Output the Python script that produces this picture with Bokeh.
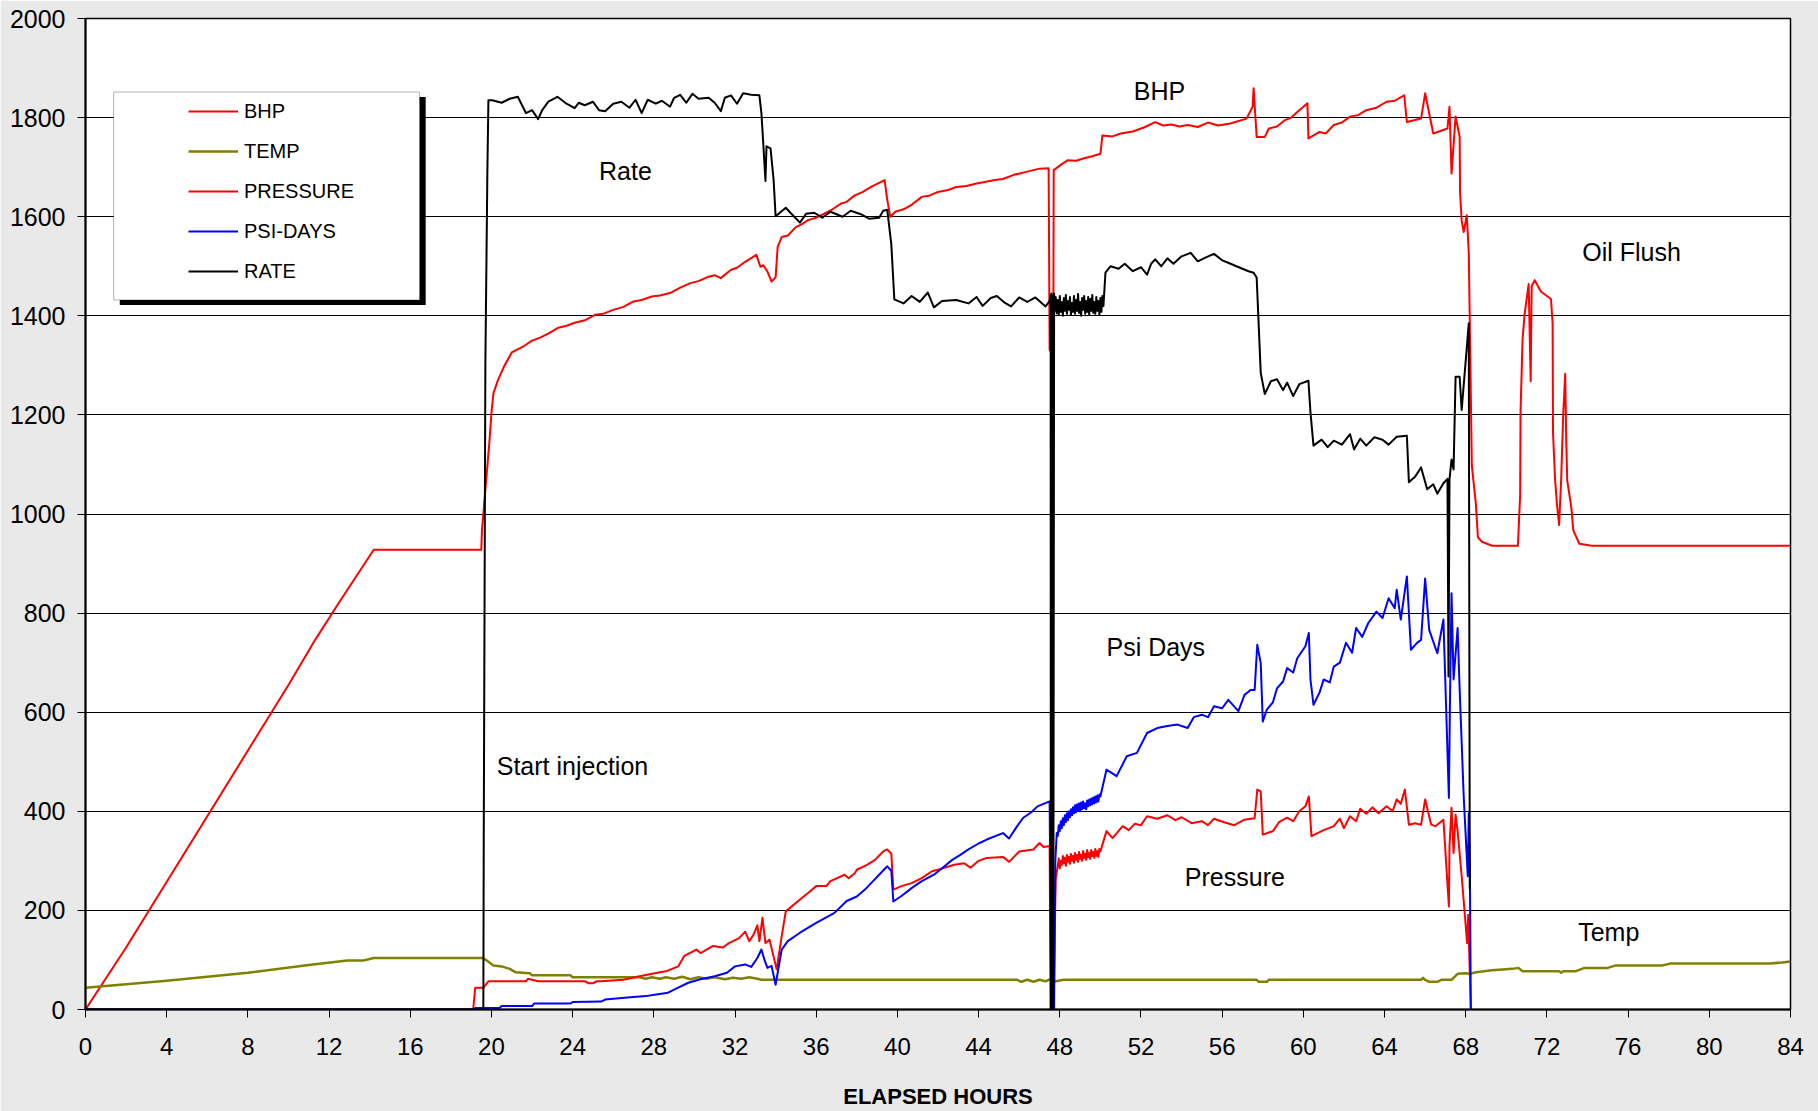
from bokeh.plotting import figure
from bokeh.models import Range1d, FixedTicker, Legend, LegendItem, BoxAnnotation, Label
from bokeh.embed import file_html
from bokeh.resources import INLINE

# ---------------- data (hours, value) ----------------
BHP = [(0,0),(2,125),(6,390),(10,655),(11.3,745),(12.5,822),(14.2,928),
       (19.5,928),(19.53,965),(19.7,1049),(19.9,1146),(20.0,1204),(20.1,1244),(20.3,1268),
       (20.6,1296),(21.0,1326),(21.6,1339),(22.0,1350),(22.4,1356),(22.8,1364),(23.3,1376),
       (23.7,1380),(24.1,1386),(24.6,1391),(25.1,1402),(25.5,1404),(26.0,1412),(26.5,1418),
       (27.0,1429),(27.4,1432),(27.9,1439),(28.3,1441),(28.8,1446),(29.3,1457),(29.8,1466),
       (30.2,1470),(30.7,1479),(31.0,1482),(31.3,1476),(31.8,1493),(32.1,1497),(32.5,1509),
       (33.05,1523),(33.25,1499),(33.4,1502),(33.6,1489),(33.8,1469),(34.0,1478),(34.1,1539),
       (34.3,1559),(34.6,1562),(35.0,1579),(35.3,1585),(35.6,1593),(36.0,1598),(36.4,1606),
       (36.8,1615),(37.2,1626),(37.5,1630),(37.9,1643),(38.3,1650),(38.7,1660),(39.37,1674),
       (39.5,1634),(39.65,1600),(39.9,1610),(40.3,1615),(40.7,1624),(41.2,1640),(41.6,1643),
       (42.0,1650),(42.5,1654),(42.9,1660),(43.4,1662),(43.9,1667),(44.3,1670),(44.8,1674),
       (45.2,1676),(45.7,1684),(46.3,1690),(47.0,1697),(47.45,1698),(47.5,1331),(47.68,1331),
       (47.7,1694),(48.1,1706),(48.4,1714),(48.8,1713),(49.2,1718),(49.6,1722),(50.0,1727),
       (50.1,1764),(50.6,1762),(51.0,1768),(51.6,1772),(52.2,1781),(52.7,1791),(53.1,1784),
       (53.5,1786),(53.9,1782),(54.3,1785),(54.8,1781),(55.3,1790),(55.8,1784),(56.4,1788),
       (57.2,1798),(57.5,1822),(57.55,1859),(57.7,1761),(58.1,1761),(58.3,1778),(58.7,1782),
       (59.1,1795),(59.4,1800),(59.8,1815),(60.2,1829),(60.25,1758),(60.8,1771),(61.1,1768),
       (61.5,1785),(61.9,1790),(62.3,1802),(62.7,1805),(63.1,1815),(63.6,1820),(64.1,1832),
       (64.5,1834),(64.97,1845),(65.1,1791),(65.8,1798),(66.0,1849),(66.4,1768),(67.1,1778),
       (67.2,1822),(67.3,1687),(67.5,1802),(67.7,1762),(67.72,1650),(67.8,1592),(67.9,1569),
       (68.05,1603),(68.15,1527),(68.2,1384),(68.3,1098),(68.5,1020),(68.6,953),(68.8,944),
       (69.3,936),(70.57,936),(70.68,1037),(70.7,1206),(70.8,1353),(70.9,1403),(71.1,1464),
       (71.2,1268),(71.25,1460),(71.4,1472),(71.7,1449),(72.2,1434),(72.28,1384),(72.3,1164),
       (72.4,1071),(72.5,1017),(72.6,978),(72.7,1068),(72.8,1198),(72.9,1283),(72.95,1151),
       (73.0,1068),(73.2,1014),(73.3,967),(73.6,940),(74.2,936),(84,936)]

TEMP = [(0,44),(4,58),(8,74),(11,90),(12.9,99),(13.7,99),(14.2,104),(19.6,104),(20.1,89),
        (20.5,87),(20.9,82),(21.2,75),(21.9,73),(22.0,69),(23.9,69),(24.0,65),(27.3,65),
        (27.6,62),(27.9,65),(28.3,62),(28.6,65),(29.0,62),(29.4,66),(29.8,61),(30.2,65),
        (30.6,62),(31.0,65),(31.5,61),(31.9,64),(32.3,62),(32.7,65),(33.1,62),(33.3,60),
        (45.9,60),(46.1,56),(46.4,60),(46.7,56),(47.0,60),(47.3,57),(47.5,61),(47.8,57),
        (48.2,60),(57.7,60),(57.8,56),(58.2,56),(58.3,60),(65.8,60),(65.9,64),(66.0,60),
        (66.2,56),(66.6,56),(66.8,60),(67.3,60),(67.6,72),(68.0,73),(68.2,72),(68.5,75),
        (69.3,79),(70.3,82),(70.6,84),(70.8,77),(72.6,77),(72.7,74),(72.8,77),(73.4,77),
        (73.85,84),(75.0,84),(75.4,89),(77.7,89),(78.1,93),(83.0,93),(83.6,95),(84,97)]

PRESSURE = [(0,0),(19.1,0),(19.2,44),(19.6,44),(19.85,57),(21.7,57),(21.8,62),(22.0,60),
            (22.3,57),(24.6,57),(24.8,53),(25.0,53),(25.2,57),(25.4,57),(26.5,60),(27.3,67),
            (28.3,75),(28.6,77),(29.2,87),(29.5,108),(30.1,121),(30.3,114),(30.9,128),
            (31.4,125),(31.7,134),(32.2,144),(32.5,157),(32.7,138),(32.9,150),(33.1,170),
            (33.2,138),(33.35,185),(33.5,134),(33.7,141),(34.05,81),(34.3,148),(34.5,198),
            (35.2,222),(35.6,235),(36.0,249),(36.5,249),(36.7,259),(37.4,272),(37.6,265),
            (37.9,275),(38.0,282),(38.5,292),(38.9,302),(39.3,319),(39.5,323),(39.7,315),
            (39.8,242),(40.2,249),(40.7,255),(41.2,265),(41.7,279),(42.0,282),(42.8,292),
            (43.3,295),(43.6,286),(44.0,300),(44.4,306),(45.2,308),(45.5,298),(46.0,319),
            (46.7,323),(47.0,336),(47.2,328),(47.5,330),(47.55,0),(47.7,0),(47.75,150),
            (47.8,262),(47.9,290),(47.95,305),(48.0,285),(48.05,300),(48.1,292),(48.15,310),
            (48.2,295),(48.25,306),(48.3,290),(48.35,312),(48.4,298),(48.45,308),(48.5,294),
            (48.55,314),(48.6,300),(48.65,310),(48.7,296),(48.75,316),(48.8,302),(48.85,312),
            (48.9,298),(48.95,318),(49.0,304),(49.05,312),(49.1,300),(49.15,320),(49.2,306),
            (49.25,314),(49.3,302),(49.35,322),(49.4,308),(49.45,316),(49.5,304),(49.55,322),
            (49.6,310),(49.65,318),(49.7,306),(49.75,324),(49.8,310),(49.85,320),(49.9,308),
            (49.95,324),(50.0,319),(50.3,360),(50.6,346),(51.1,370),(51.4,362),(51.7,375),
            (52.0,372),(52.3,390),(52.8,385),(53.3,392),(53.7,382),(54.0,388),(54.5,376),
            (55.0,380),(55.3,372),(55.6,385),(56.1,378),(56.6,372),(57.1,383),(57.6,386),
            (57.73,444),(57.9,440),(58.0,353),(58.5,360),(58.8,378),(59.2,387),(59.5,380),
            (59.8,400),(60.1,410),(60.27,430),(60.4,350),(60.6,354),(61.0,362),(61.5,370),
            (61.8,385),(62.0,366),(62.3,390),(62.6,380),(62.8,405),(63.1,395),(63.4,408),
            (63.7,396),(64.1,410),(64.4,400),(64.6,424),(64.8,415),(65.0,444),(65.2,373),
            (65.5,376),(65.8,373),(66.0,424),(66.3,373),(66.5,370),(66.9,383),(67.17,208),
            (67.2,330),(67.3,407),(67.4,316),(67.5,393),(67.6,360),(67.8,269),(68.07,134),
            (68.12,191),(68.2,74),(68.25,0)]

PSI_DAYS = [(0,0),(19.1,0),(19.2,3),(20.4,3),(20.5,7),(22.0,7),(22.1,12),(23.9,12),(24.0,15),
            (25.4,16),(25.6,20),(26.7,24),(27.6,27),(28.2,31),(28.7,34),(29.2,44),(29.7,54),
            (30.3,61),(31.0,67),(31.6,74),(32.0,87),(32.5,91),(32.8,86),(33.1,104),(33.3,121),
            (33.45,100),(33.6,84),(33.8,88),(34.0,50),(34.3,121),(34.6,138),(35.2,155),
            (36.0,175),(36.9,195),(37.5,219),(38.0,228),(38.4,242),(38.8,259),(39.1,272),
            (39.5,289),(39.7,280),(39.8,218),(40.2,229),(40.7,245),(41.2,259),(41.8,272),
            (42.2,285),(42.7,302),(43.1,312),(43.5,323),(44.0,335),(44.4,343),(45.2,356),
            (45.5,345),(45.9,370),(46.2,387),(46.6,398),(46.9,410),(47.5,420),(47.58,0),
            (47.72,0),(47.78,300),(47.85,356),(47.9,350),(47.95,372),(48.0,360),(48.05,380),
            (48.1,366),(48.15,386),(48.2,372),(48.25,392),(48.3,378),(48.35,396),(48.4,382),
            (48.45,400),(48.5,388),(48.55,404),(48.6,392),(48.65,408),(48.7,396),(48.75,412),
            (48.8,398),(48.85,414),(48.9,402),(48.95,416),(49.0,400),(49.05,418),(49.1,404),
            (49.15,420),(49.2,406),(49.25,416),(49.3,404),(49.35,422),(49.4,410),(49.45,424),
            (49.5,412),(49.55,426),(49.6,414),(49.65,428),(49.7,416),(49.75,430),(49.8,418),
            (49.85,432),(49.9,420),(49.95,434),(50.0,430),(50.3,484),(50.8,471),(51.3,511),
            (51.8,518),(52.3,558),(52.8,568),(53.3,572),(53.8,575),(54.3,568),(54.6,590),
            (55.0,595),(55.3,590),(55.6,612),(56.0,608),(56.3,625),(56.8,602),(57.1,635),
            (57.4,645),(57.6,645),(57.73,736),(57.9,699),(58.0,581),(58.2,605),(58.5,620),
            (58.7,648),(59.0,662),(59.2,689),(59.5,680),(59.7,709),(60.1,733),(60.27,760),
            (60.35,666),(60.5,615),(60.8,640),(61.0,666),(61.3,660),(61.5,692),(61.8,700),
            (62.1,740),(62.4,720),(62.6,770),(62.9,752),(63.2,780),(63.6,803),(63.9,790),
            (64.2,830),(64.5,810),(64.6,847),(64.8,787),(65.1,874),(65.3,726),(65.6,740),
            (65.8,746),(66.0,870),(66.2,766),(66.6,719),(66.9,787),(67.17,427),(67.22,612),
            (67.3,840),(67.4,666),(67.6,770),(67.7,646),(67.9,430),(68.1,269),(68.15,396),
            (68.2,300),(68.25,0)]

RATE = [(0,0),(19.6,0),(19.62,340),(19.7,1300),(19.8,1694),(19.85,1835),(20.04,1835),
        (20.5,1830),(20.9,1838),(21.3,1842),(21.7,1809),(22.0,1815),(22.3,1797),(22.5,1815),
        (22.8,1832),(23.25,1842),(23.7,1828),(24.1,1819),(24.3,1830),(24.6,1825),(25.0,1832),
        (25.3,1815),(25.6,1813),(26.0,1828),(26.4,1832),(26.8,1820),(27.1,1836),(27.4,1809),
        (27.7,1836),(28.1,1828),(28.4,1834),(28.8,1822),(29.0,1840),(29.3,1846),(29.6,1830),
        (29.9,1848),(30.2,1838),(30.7,1840),(31.0,1830),(31.3,1813),(31.5,1840),(31.8,1845),
        (32.1,1828),(32.4,1849),(32.8,1846),(33.2,1845),(33.3,1809),(33.4,1742),(33.5,1672),
        (33.55,1742),(33.75,1738),(33.9,1675),(34.0,1601),(34.5,1618),(34.8,1605),(35.2,1588),
        (35.5,1606),(35.9,1608),(36.3,1598),(36.7,1610),(37.3,1600),(37.7,1612),(38.2,1605),
        (38.6,1596),(39.1,1598),(39.3,1612),(39.5,1614),(39.7,1544),(39.85,1433),(40.3,1425),
        (40.7,1440),(41.1,1428),(41.5,1447),(41.8,1417),(42.2,1430),(42.9,1432),(43.5,1425),
        (43.9,1438),(44.2,1420),(44.6,1436),(44.9,1440),(45.3,1426),(45.6,1419),(46.0,1437),
        (46.4,1428),(46.8,1437),(47.3,1419),(47.5,1430),(47.55,1443),(47.56,0),(47.6,1445),
        (47.62,0),(47.66,1440),(47.68,0),(47.72,1445),(47.76,1410),(47.8,1438),(47.85,1405),
        (47.9,1432),(47.95,1402),(48.0,1440),(48.05,1408),(48.1,1428),(48.15,1400),(48.2,1436),
        (48.25,1410),(48.3,1442),(48.35,1404),(48.4,1430),(48.45,1412),(48.5,1438),(48.55,1402),
        (48.6,1426),(48.65,1408),(48.7,1440),(48.75,1404),(48.8,1432),(48.85,1410),(48.9,1444),
        (48.95,1406),(49.0,1428),(49.05,1400),(49.1,1436),(49.15,1412),(49.2,1440),(49.25,1404),
        (49.3,1430),(49.35,1408),(49.4,1438),(49.45,1402),(49.5,1434),(49.55,1410),(49.6,1442),
        (49.65,1406),(49.7,1428),(49.75,1404),(49.8,1438),(49.85,1410),(49.9,1430),(49.95,1402),
        (50.0,1436),(50.05,1408),(50.1,1440),(50.15,1420),(50.25,1487),(50.5,1500),(50.9,1495),
        (51.2,1505),(51.6,1490),(52.0,1498),(52.3,1483),(52.5,1505),(52.7,1514),(53.0,1500),
        (53.3,1516),(53.6,1505),(54.0,1520),(54.45,1527),(54.8,1510),(55.2,1518),(55.6,1525),
        (56.0,1512),(56.3,1507),(56.7,1500),(57.0,1495),(57.3,1490),(57.55,1487),(57.7,1477),
        (57.9,1285),(58.1,1242),(58.4,1268),(58.7,1272),(59.0,1250),(59.2,1265),(59.5,1238),
        (59.8,1262),(60.25,1269),(60.35,1205),(60.5,1138),(60.9,1150),(61.2,1135),(61.5,1148),
        (61.9,1140),(62.3,1161),(62.5,1130),(62.8,1152),(63.1,1138),(63.5,1155),(63.9,1150),
        (64.2,1140),(64.6,1156),(65.1,1158),(65.2,1064),(65.5,1075),(65.8,1094),(66.1,1050),
        (66.4,1060),(66.6,1041),(66.9,1062),(67.1,1071),(67.15,672),(67.2,1070),(67.3,1110),
        (67.4,1090),(67.5,1277),(67.7,1277),(67.8,1210),(67.9,1260),(68.15,1385),(68.2,242)]

X_TICKS = list(range(0, 85, 4))
Y_TICKS = list(range(0, 2001, 200))

ANNOTATIONS = [("Rate", 25.3, 1692), ("BHP", 51.65, 1853), ("Oil Flush", 73.74, 1528),
               ("Psi Days", 50.3, 732), ("Start injection", 20.26, 491),
               ("Pressure", 54.16, 268), ("Temp", 73.54, 157)]

FONT = "Liberation Sans"

def split(pairs):
    return [a for a, b in pairs], [b for a, b in pairs]

p = figure(width=1818, height=1111, x_range=Range1d(0, 84), y_range=Range1d(0, 2000),
           output_backend="svg", toolbar_location=None,
           min_border_left=85, min_border_right=28, min_border_top=18, min_border_bottom=101)
p.border_fill_color = "#E9E9E9"
p.background_fill_color = "white"
p.outline_line_color = "black"
p.outline_line_width = 1.5

p.xgrid.grid_line_color = None
p.ygrid.grid_line_color = "black"
p.ygrid.grid_line_width = 1
p.ygrid.ticker = FixedTicker(ticks=Y_TICKS)

p.xaxis.ticker = FixedTicker(ticks=X_TICKS)
p.yaxis.ticker = FixedTicker(ticks=Y_TICKS)
for ax in (p.xaxis[0], p.yaxis[0]):
    ax.axis_line_color = "black"
    ax.axis_line_width = 2
    ax.major_tick_line_color = "black"
    ax.major_tick_line_width = 1
    ax.major_tick_in = 0
    ax.major_tick_out = 8
    ax.minor_tick_line_color = None
    ax.major_label_text_font = FONT
    ax.major_label_text_color = "black"

p.yaxis.major_label_text_font_size = "25px"
p.yaxis.major_label_standoff = 12
p.xaxis.major_label_text_font_size = "24px"
p.xaxis.major_label_standoff = 20
p.xaxis.axis_label = "ELAPSED HOURS"
p.xaxis.axis_label_text_font = FONT
p.xaxis.axis_label_text_font_style = "bold"
p.xaxis.axis_label_text_font_size = "22px"
p.xaxis.axis_label_text_color = "black"
p.xaxis.axis_label_standoff = 26

lw = 2
x, y = split(BHP)
r_bhp = p.line(x, y, line_color="#FF0000", line_width=lw, line_join="round")
x, y = split(TEMP)
r_temp = p.line(x, y, line_color="#808000", line_width=2.5, line_join="round")
x, y = split(PRESSURE)
r_pres = p.line(x, y, line_color="#FF0000", line_width=lw, line_join="round")
x, y = split(PSI_DAYS)
r_psi = p.line(x, y, line_color="#0000FF", line_width=lw, line_join="round")
x, y = split(RATE)
r_rate = p.line(x, y, line_color="black", line_width=lw, line_join="round")

for txt, tx, ty in ANNOTATIONS:
    p.add_layout(Label(x=tx, y=ty, text=txt, text_font=FONT, text_font_size="25px",
                       text_color="black", text_baseline="middle", text_align="left"))

# legend frame with shadow
p.add_layout(BoxAnnotation(left=1.69, right=16.76, top=1841.5, bottom=1422,
                           fill_color="black", fill_alpha=1, line_alpha=0))
p.add_layout(BoxAnnotation(left=1.39, right=16.46, top=1851.6, bottom=1432,
                           fill_color="white", fill_alpha=1, line_color="black", line_width=1))

legend = Legend(items=[LegendItem(label="BHP", renderers=[r_bhp]),
                       LegendItem(label="TEMP", renderers=[r_temp]),
                       LegendItem(label="PRESSURE", renderers=[r_pres]),
                       LegendItem(label="PSI-DAYS", renderers=[r_psi]),
                       LegendItem(label="RATE", renderers=[r_rate])],
                location=(97, 720), orientation="vertical",
                glyph_width=50, glyph_height=24, label_height=24, spacing=16,
                label_standoff=6, padding=6, margin=0,
                label_text_font=FONT, label_text_font_size="20px", label_text_color="black",
                border_line_alpha=0, background_fill_alpha=0)
p.add_layout(legend, "center")

open("out.html", "w").write(file_html(p, INLINE))
